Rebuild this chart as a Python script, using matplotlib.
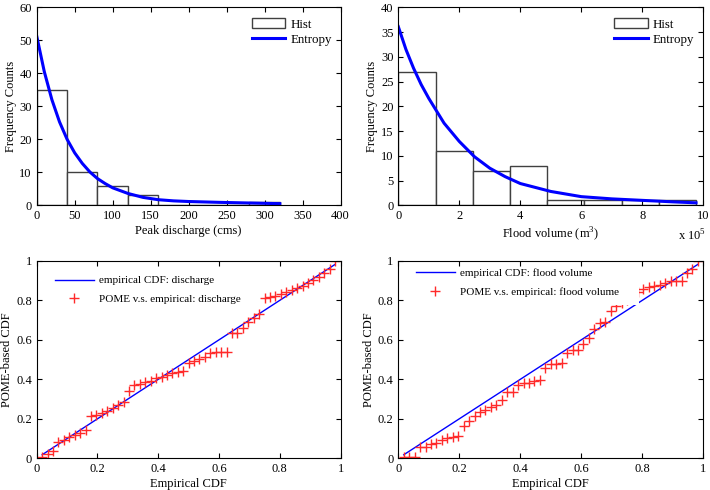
import numpy as np
import matplotlib
matplotlib.use('Agg')
import matplotlib.pyplot as plt
from matplotlib.patches import Rectangle, Patch
from matplotlib.lines import Line2D

plt.rcParams['font.family'] = ['Liberation Serif', 'DejaVu Serif']
plt.rcParams['mathtext.fontset'] = 'custom'
plt.rcParams['mathtext.rm'] = 'Liberation Serif'
plt.rcParams['font.size'] = 9
plt.rcParams['xtick.direction'] = 'in'
plt.rcParams['ytick.direction'] = 'in'
plt.rcParams['xtick.top'] = True
plt.rcParams['ytick.right'] = True
plt.rcParams['xtick.major.size'] = 3.5
plt.rcParams['ytick.major.size'] = 3.5
plt.rcParams['axes.linewidth'] = 0.8

# histogram of peak discharge (cms)
q_edges = [0, 40, 80, 120, 160, 200, 240, 280, 320]
q_counts = [35, 10, 6, 3, 0, 0, 0, 1]
# entropy (POME) curve for discharge, scaled to counts
q_curve_x = [0, 10, 20, 30, 40, 50, 60, 70, 80, 90, 100, 120, 140, 160, 180, 200, 240, 280, 320]
q_curve_y = [51.3, 40.5, 32.0, 25.3, 20.0, 15.9, 12.7, 10.1, 8.1, 6.6, 5.3, 3.6, 2.4, 1.7,
             1.35, 1.15, 0.9, 0.7, 0.5]

# histogram of flood volume (x 1e5 m^3)
v_edges = [0, 1.22, 2.44, 3.66, 4.88, 6.10, 7.32, 8.54, 9.76]
v_counts = [27, 11, 7, 8, 1, 1, 1, 1]
v_curve_x = [0, 0.25, 0.5, 0.75, 1, 1.5, 2, 2.5, 3, 3.5, 4, 4.5, 5, 6, 7, 8, 9, 9.76]
v_curve_y = [36.1, 31.5, 27.7, 24.4, 21.6, 16.6, 12.9, 9.8, 7.5, 5.8, 4.4, 3.6, 2.8, 1.75,
             1.3, 1.0, 0.7, 0.5]

# POME-based CDF vs empirical CDF (55 observations)
q_pome = [0.005, 0.022, 0.037, 0.084, 0.093, 0.11, 0.118, 0.126, 0.143, 0.214,
          0.219, 0.228, 0.24, 0.253, 0.27, 0.287, 0.342, 0.371, 0.374, 0.388,
          0.391, 0.408, 0.413, 0.421, 0.43, 0.438, 0.443, 0.484, 0.492, 0.502,
          0.511, 0.531, 0.536, 0.539, 0.539, 0.636, 0.636, 0.658, 0.691, 0.708,
          0.73, 0.81, 0.818, 0.823, 0.83, 0.84, 0.85, 0.862, 0.875, 0.89,
          0.905, 0.92, 0.94, 0.96, 1.0]
v_pome = [0.005, 0.008, 0.008, 0.059, 0.059, 0.071, 0.076, 0.093, 0.101, 0.11,
          0.113, 0.163, 0.19, 0.214, 0.236, 0.244, 0.261, 0.27, 0.295, 0.337,
          0.337, 0.37, 0.38, 0.383, 0.39, 0.395, 0.455, 0.477, 0.48, 0.484,
          0.534, 0.55, 0.55, 0.58, 0.607, 0.653, 0.686, 0.69, 0.747, 0.77,
          0.785, 0.80, 0.82, 0.84, 0.855, 0.865, 0.872, 0.88, 0.89, 0.897,
          0.897, 0.9, 0.94, 0.957, 1.0]
n = len(q_pome)
emp = np.arange(1, n + 1) / (n + 1)

cdf_ticks = [0, 0.2, 0.4, 0.6, 0.8, 1]
cdf_labels = ['0', '0.2', '0.4', '0.6', '0.8', '1']

fig = plt.figure(figsize=(7.1, 4.9), dpi=100)
ax1 = fig.add_axes([0.0517, 0.581, 0.428, 0.404])
ax2 = fig.add_axes([0.561, 0.581, 0.4296, 0.404])
ax3 = fig.add_axes([0.0517, 0.0647, 0.428, 0.403])
ax4 = fig.add_axes([0.561, 0.0647, 0.4296, 0.403])

edge = '0.25'


def hist_panel(ax, edges, counts, cx, cy):
    ax.bar(edges[:-1], counts, width=np.diff(edges), align='edge',
           facecolor='white', edgecolor=edge, linewidth=1)
    ax.plot(cx, cy, color='blue', linewidth=2.2)
    handles = [Patch(facecolor='white', edgecolor=edge, linewidth=1),
               Line2D([], [], color='blue', linewidth=2.2)]
    ax.legend(handles, ['Hist', 'Entropy'], loc='upper left',
              bbox_to_anchor=(0.707, 0.945), frameon=False, fontsize=9.3,
              handlelength=2.6, handleheight=0.8, handletextpad=0.4,
              labelspacing=0.2, borderpad=0, borderaxespad=0)
    ax.set_ylabel('Frequency Counts', labelpad=2)


hist_panel(ax1, q_edges, q_counts, q_curve_x, q_curve_y)
ax1.set_xlim(0, 400)
ax1.set_ylim(0, 60)
ax1.set_xticks(range(0, 401, 50))
ax1.set_yticks(range(0, 61, 10))
ax1.set_xlabel('Peak discharge (cms)', labelpad=2)

hist_panel(ax2, v_edges, v_counts, v_curve_x, v_curve_y)
ax2.set_xlim(0, 10)
ax2.set_ylim(0, 40)
ax2.set_xticks(range(0, 11, 2))
ax2.set_yticks(range(0, 41, 5))
ax2.set_xlabel('Flood volume (m$^3$)', labelpad=2)
ax2.text(0.963, -0.155, 'x 10$^5$', transform=ax2.transAxes, ha='center', va='center')


def cdf_panel(ax, pome, name, anchor):
    ax.plot(emp, emp, color='blue', linewidth=1, label='empirical CDF: ' + name)
    ax.plot(emp, pome, linestyle='none', marker='+', color='#ff2a2a',
            markersize=6.5, markeredgewidth=1,
            label='POME v.s. empirical: ' + name)
    ax.legend(loc='upper left', bbox_to_anchor=anchor, frameon=False, fontsize=8,
              handlelength=3.5, handletextpad=0.45, labelspacing=0.8,
              borderpad=0, borderaxespad=0, numpoints=1)
    ax.set_xlim(0, 1)
    ax.set_ylim(0, 1)
    ax.set_xticks(cdf_ticks)
    ax.set_xticklabels(cdf_labels)
    ax.set_yticks(cdf_ticks)
    ax.set_yticklabels(cdf_labels)
    ax.set_xlabel('Empirical CDF', labelpad=2)
    ax.set_ylabel('POME-based CDF', labelpad=2)


cdf_panel(ax3, q_pome, 'discharge', (0.06, 0.925))
cdf_panel(ax4, v_pome, 'flood volume', (0.058, 0.963))
# white legend box of the original hides part of the flood volume panel
ax4.add_patch(Rectangle((0.02, 0.775), 0.77, 0.19, transform=ax4.transAxes,
                        facecolor='white', edgecolor='none', zorder=3))

fig.savefig('out.png', dpi=100)
